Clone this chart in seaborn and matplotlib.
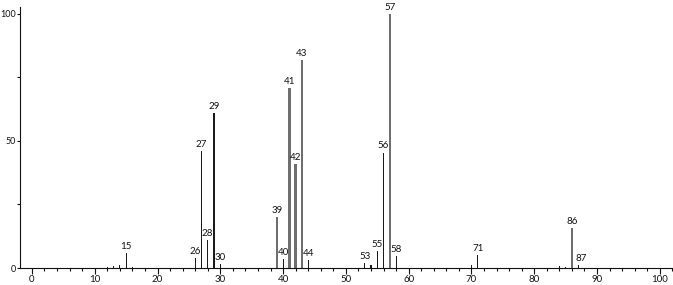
import matplotlib
matplotlib.use("Agg")
import matplotlib.pyplot as plt
import seaborn as sns
import pandas as pd
from matplotlib.ticker import MultipleLocator

mz = [12, 13, 14, 15, 16, 26, 27, 28, 29, 30, 39, 40, 41, 42, 43, 44,
      53, 54, 55, 56, 57, 58, 70, 71, 84, 85, 86, 87]
intensity = [0.3, 0.6, 1.0, 5.9, 0.5, 4.0, 46.0, 11.0, 61.0, 1.5, 20.0, 3.5, 70.7, 41.0, 81.7, 3.0,
             1.8, 1.0, 6.7, 45.4, 100.0, 4.7, 1.0, 5.0, 0.8, 0.5, 15.7, 1.2]
shade = ["dark", "dark", "dark", "dark", "dark", "dark", "dark", "dark", "dark", "dark",
         "light", "dark", "light", "light", "light", "dark",
         "dark", "dark", "dark", "dark", "light", "dark", "dark", "dark", "dark", "dark", "light", "dark"]
labeled = [15, 26, 27, 28, 29, 30, 39, 40, 41, 42, 43, 44, 53, 55, 56, 57, 58, 71, 86, 87]

df = pd.DataFrame({"mz": mz, "intensity": intensity, "shade": shade})

sns.set_theme(style="white")
plt.rcParams["font.family"] = ["Lato", "DejaVu Sans"]

fig = plt.figure(figsize=(6.73, 2.85), dpi=100)
ax = fig.add_axes([20 / 673, 17 / 285, 653 / 673, 261 / 285])

dark = df[df.shade == "dark"]
light = df[df.shade == "light"]
sns.barplot(data=dark, x="mz", y="intensity", native_scale=True, width=0.17,
            color="#1a1a1a", saturation=1, ax=ax, linewidth=0)
sns.barplot(data=light, x="mz", y="intensity", native_scale=True, width=0.38,
            color="#6e6e6e", saturation=1, ax=ax, linewidth=0)

for m, v in zip(mz, intensity):
    if m in labeled:
        dx = 0.4 if m == 87 else 0.0
        ax.text(m + dx, v + 0.8, str(m), ha="center", va="bottom", fontsize=7, color="#111111")

ax.set_xlim(-1.9, 102.1)
ax.set_ylim(0, 102.6)
ax.xaxis.set_major_locator(MultipleLocator(10))
ax.xaxis.set_minor_locator(MultipleLocator(2))
ax.yaxis.set_major_locator(MultipleLocator(50))
ax.yaxis.set_minor_locator(MultipleLocator(25))
ax.tick_params(axis="x", which="major", direction="out", length=4, width=0.8,
               labelsize=7, pad=1, colors="#111111", bottom=True)
ax.tick_params(axis="y", which="major", direction="out", length=2.5, width=0.8,
               labelsize=6.5, pad=0.5, colors="#111111", left=True)
ax.tick_params(axis="both", which="minor", direction="out", length=2, width=0.8,
               bottom=True, left=True, colors="#111111")
ax.set_xlabel("")
ax.set_ylabel("")
for s in ["top", "right"]:
    ax.spines[s].set_visible(False)
for s in ["left", "bottom"]:
    ax.spines[s].set_color("#111111")
    ax.spines[s].set_linewidth(0.8)

fig.savefig("out.png", dpi=100)
